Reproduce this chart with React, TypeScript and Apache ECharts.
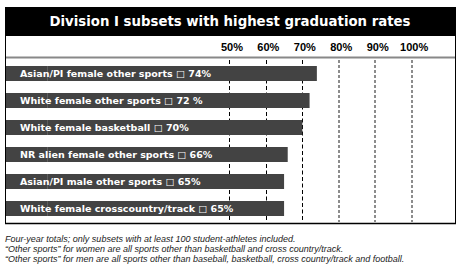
import React, { useEffect, useRef } from "react";
import * as echarts from "echarts";

const categories = [
  "Asian/PI female other sports",
  "White female other sports",
  "White female basketball",
  "NR alien female other sports",
  "Asian/PI male other sports",
  "White female crosscountry/track",
];
const values = [74, 72, 70, 66, 65, 65];
const valueTexts = ["74%", "72 %", "70%", "66%", "65%", "65%"];
const tickValues = [50, 60, 70, 80, 90, 100];
const title = "Division I subsets with highest graduation rates";
const notes = [
  "Four-year totals; only subsets with at least 100 student-athletes included.",
  "\u201COther sports\u201D for women are all sports other than basketball and cross country/track.",
  "\u201COther sports\u201D for men are all sports other than baseball, basketball, cross country/track and football.",
];

const X_MIN = -11.3;
const X_MAX = 111.9;
const FONT = "'Liberation Sans', Arial, Helvetica, sans-serif";
const HEAVY = "'DejaVu Sans', 'Liberation Sans', Arial, sans-serif";
const BAR = "#434343";

export default function App() {
  const ref = useRef<HTMLDivElement>(null);
  useEffect(() => {
    if (!ref.current) return;
    const chart = echarts.init(ref.current, null, { renderer: "svg" });
    chart.setOption({
      animation: false,
      backgroundColor: "#fff",
      grid: { left: 6, right: 7, top: 60, bottom: 55, containLabel: false },
      xAxis: {
        type: "value",
        position: "top",
        min: X_MIN,
        max: X_MAX,
        axisLine: { show: false },
        axisTick: { show: false },
        splitLine: { show: false },
        axisLabel: {
          customValues: tickValues,
          formatter: "{value}%",
          fontFamily: FONT,
          fontWeight: "bold",
          fontSize: 11,
          color: "#000",
          margin: 8,
          padding: [0, 0, 0, 5],
        },
      },
      yAxis: {
        type: "category",
        data: categories,
        inverse: true,
        axisLine: { show: false },
        axisTick: { show: false },
        axisLabel: { show: false },
        splitLine: { show: false },
      },
      series: [
        {
          type: "bar",
          data: values,
          barWidth: 15,
          barGap: "-100%",
          itemStyle: { color: BAR },
          markLine: {
            silent: true,
            symbol: "none",
            z: 1,
            label: { show: false },
            data: tickValues.map((v) => ({
              xAxis: v,
              lineStyle: {
                color: v <= 70 ? "#000" : "#8c8c8c",
                width: v <= 70 ? 1 : 2,
                type: v <= 70 ? [4, 2.5] : [3, 2],
              },
            })),
          },
        },
        {
          // extends each bar from 0 back to the left edge of the axis, and carries the label
          type: "bar",
          data: categories.map(() => X_MIN),
          barWidth: 15,
          barGap: "-100%",
          z: 3,
          itemStyle: { color: BAR },
          silent: true,
          label: {
            show: true,
            position: "insideLeft",
            distance: 14,
            color: "#fff",
            fontFamily: HEAVY,
            fontWeight: "bold",
            fontSize: 9.5,
            formatter: (p: any) => `${categories[p.dataIndex]} \u25A1 ${valueTexts[p.dataIndex]}`,
          },
        },
      ],
      graphic: [
        { type: "rect", shape: { x: 5, y: 7, width: 451, height: 29 }, style: { fill: "#000" }, z: 10 },
        {
          type: "text",
          x: 230,
          y: 21.5,
          style: {
            text: title,
            fill: "#fff",
            font: `bold 13.3px ${HEAVY}`,
            textAlign: "center",
            textVerticalAlign: "middle",
          },
          z: 11,
        },
        { type: "line", shape: { x1: 5, y1: 57.5, x2: 455.5, y2: 57.5 }, style: { stroke: "#888", lineWidth: 2 }, z: 10 },
        { type: "line", shape: { x1: 5.5, y1: 36, x2: 5.5, y2: 224 }, style: { stroke: "#000", lineWidth: 1 }, z: 10 },
        { type: "line", shape: { x1: 455.5, y1: 36, x2: 455.5, y2: 224 }, style: { stroke: "#000", lineWidth: 1 }, z: 10 },
        { type: "line", shape: { x1: 5, y1: 223.5, x2: 456, y2: 223.5 }, style: { stroke: "#000", lineWidth: 1.5 }, z: 10 },
        ...notes.map((t, i) => ({
          type: "text",
          x: 5,
          y: 239 + i * 10,
          style: {
            text: t,
            fill: "#222",
            font: `italic 9px ${FONT}`,
            textAlign: "left",
            textVerticalAlign: "middle",
          },
          z: 10,
        })),
      ],
    });
    return () => chart.dispose();
  }, []);
  return (
    <div
      ref={ref}
      style={{ position: "fixed", left: 0, top: 0, width: 462, height: 277 }}
    />
  );
}
